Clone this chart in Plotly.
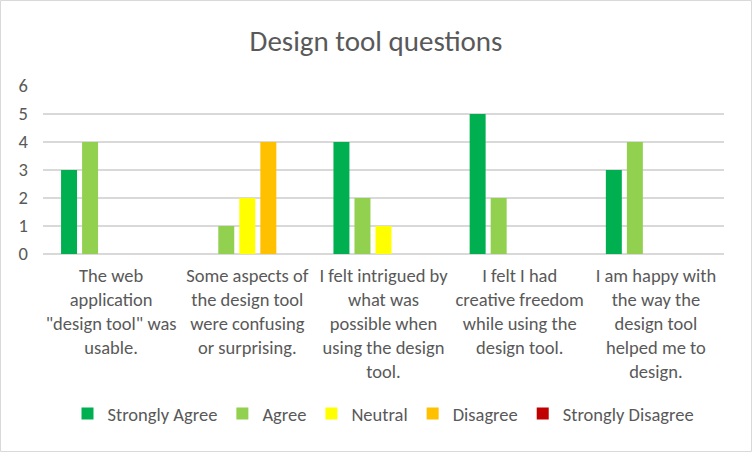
import plotly.graph_objects as go

categories = [
    "The web<br>application<br>\"design tool\" was<br>usable.",
    "Some aspects of<br>the design tool<br>were confusing<br>or surprising.",
    "I felt intrigued by<br>what was<br>possible when<br>using the design<br>tool.",
    "I felt I had<br>creative freedom<br>while using the<br>design tool.",
    "I am happy with<br>the way the<br>design tool<br>helped me to<br>design.",
]
series_names = ["Strongly Agree", "Agree", "Neutral", "Disagree", "Strongly Disagree"]
strongly_agree = [3, 0, 4, 5, 3]
agree = [4, 1, 2, 2, 4]
neutral = [0, 2, 1, 0, 0]
disagree = [0, 4, 0, 0, 0]
strongly_disagree = [0, 0, 0, 0, 0]
colors = ["#00B050", "#92D050", "#FFFF00", "#FFC000", "#C00000"]
y_ticks = [0, 1, 2, 3, 4, 5, 6]

FONT = "Carlito, Calibri, 'Liberation Sans Narrow', 'Liberation Sans', sans-serif"
TXT = "#595959"
GRID = "#D9D9D9"
FS = 18.5

fig = go.Figure()
for name, vals, col in zip(series_names,
                           [strongly_agree, agree, neutral, disagree, strongly_disagree],
                           colors):
    fig.add_trace(go.Bar(name=name, x=list(range(len(categories))), y=vals,
                         marker=dict(color=col, line=dict(width=0))))

W, H = 752, 452
L, R, T, B = 43, 28, 86, 198
pw, ph = W - L - R, H - T - B

fig.update_layout(
    width=W, height=H,
    margin=dict(l=L, r=R, t=T, b=B, autoexpand=False),
    paper_bgcolor="white", plot_bgcolor="white",
    barmode="group", bargap=0.228, bargroupgap=0.24,
    font=dict(family=FONT, color=TXT, size=FS),
    title=dict(text="Design tool questions", x=0.5, xanchor="center",
               y=1 - 41 / H, yanchor="middle", yref="container",
               font=dict(family=FONT, size=29, color=TXT)),
    showlegend=True,
    legend=dict(orientation="h", x=0.5, xanchor="center",
                y=(ph - (414 - T)) / ph, yanchor="middle",
                font=dict(family=FONT, size=FS, color=TXT),
                itemwidth=30, traceorder="normal", bgcolor="rgba(0,0,0,0)"),
    xaxis=dict(tickmode="array", tickvals=list(range(len(categories))),
               ticktext=categories, range=[-0.5, len(categories) - 0.5],
               showgrid=False, zeroline=False, showline=False, ticks="",
               automargin=False, tickangle=0, ticklabelstandoff=8,
               tickfont=dict(family=FONT, size=FS, color=TXT)),
    yaxis=dict(range=[0, 6], tickvals=y_ticks, showgrid=True, gridcolor=GRID,
               gridwidth=1.5, zeroline=True, zerolinecolor=GRID, zerolinewidth=1.5,
               showline=False, ticks="", automargin=False, ticklabelstandoff=14,
               tickfont=dict(family=FONT, size=FS, color=TXT)),
    shapes=[dict(type="rect", xref="paper", yref="paper",
                 x0=(0.5 - L) / pw, x1=(W - 0.5 - L) / pw,
                 y0=(ph - (H - 0.5 - T)) / ph, y1=(ph + T - 0.5) / ph,
                 line=dict(color=GRID, width=1), fillcolor="rgba(0,0,0,0)",
                 layer="below")],
)

fig.write_html("out.html", config={"displayModeBar": False},
               post_script="document.body.style.margin='0';document.body.style.padding='0';")
